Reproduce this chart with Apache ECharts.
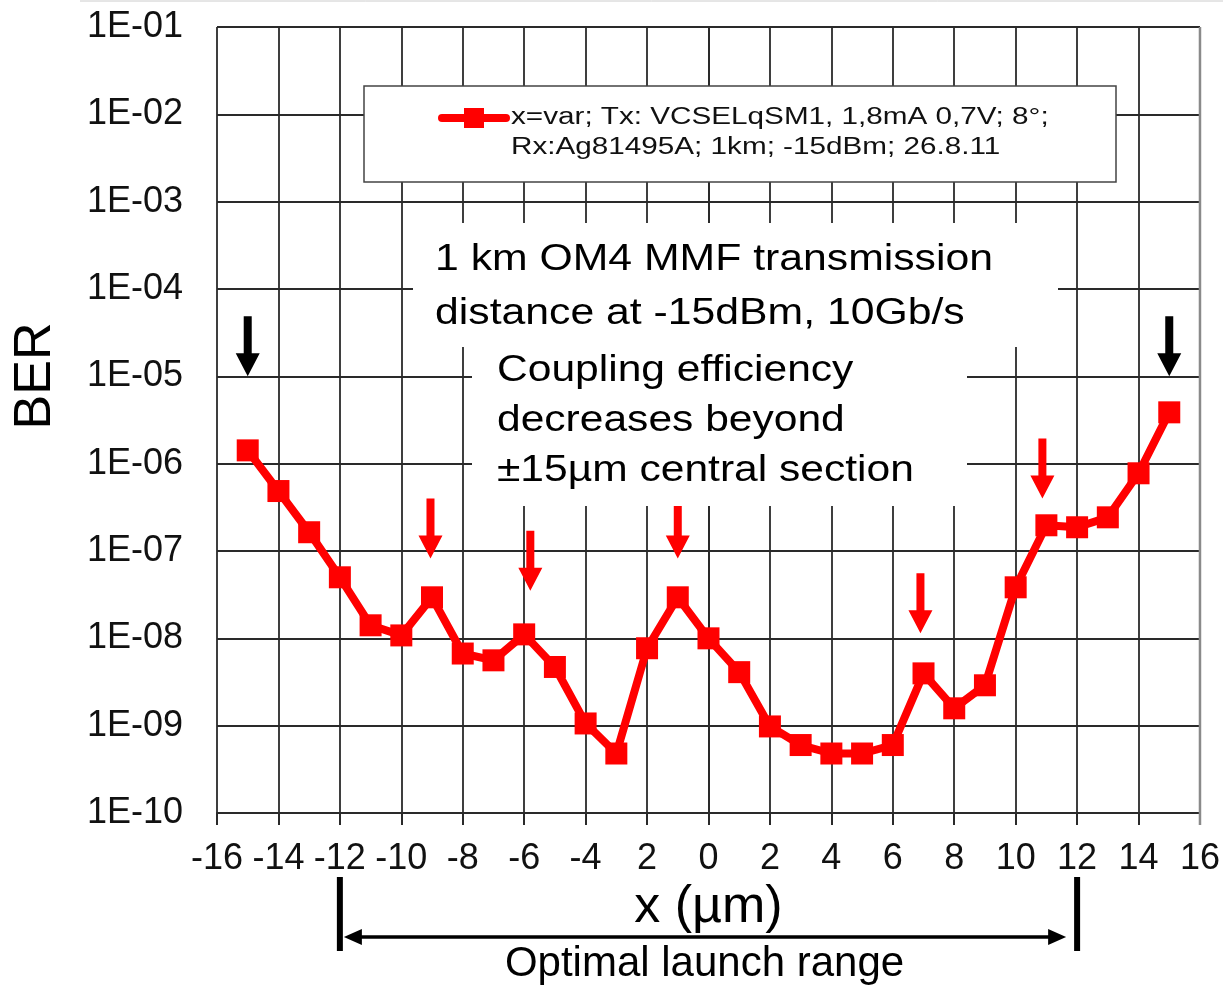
<!DOCTYPE html>
<html><head><meta charset="utf-8">
<script src="https://cdn.jsdelivr.net/npm/echarts@6/dist/echarts.min.js"></script>
<style>html,body{margin:0;padding:0;background:#fff}#c{width:1223px;height:987px}</style>
</head><body><div id="c"></div>
<script>
// ---- data ----
const xPositions = [-15,-14,-13,-12,-11,-10,-9,-8,-7,-6,-5,-4,-3,-2,-1,0,1,2,3,4,5,6,7,8,9,10,11,12,13,14,15];
const berValues = [
  1.42e-6, 4.86e-7, 1.64e-7, 5.0e-8, 1.41e-8, 1.08e-8, 2.95e-8, 6.7e-9, 5.6e-9, 1.11e-8,
  4.7e-9, 1.06e-9, 4.8e-10, 7.7e-9, 2.95e-8, 1.0e-8, 4.1e-9, 9.8e-10, 6.0e-10, 4.8e-10,
  4.8e-10, 6.0e-10, 3.97e-9, 1.58e-9, 2.9e-9, 3.84e-8, 1.97e-7, 1.87e-7, 2.43e-7, 7.76e-7,
  3.87e-6
];
const xTickLabels = ['-16','-14','-12','-10','-8','-6','-4','2','0','2','4','6','8','10','12','14','16'];
const yTickLabels = ['1E-10','1E-09','1E-08','1E-07','1E-06','1E-05','1E-04','1E-03','1E-02','1E-01'];
const seriesName = ['x=var; Tx: VCSELqSM1, 1,8mA 0,7V; 8°;', 'Rx:Ag81495A; 1km; -15dBm; 26.8.11'];
const noteTransmission = ['1 km OM4 MMF transmission', 'distance at -15dBm, 10Gb/s'];
const noteCoupling = ['Coupling efficiency', 'decreases beyond', '±15µm central section'];
const redArrowX = [-9.05, -5.8, -1, 6.9, 10.87];
const redArrowTip = [8.2e-8, 3.5e-8, 8.2e-8, 1.14e-8, 4.0e-7];
const blackArrowX = [-15, 15];
const blackArrowTip = [1e-5, 1e-5];
const launchRange = [-12, 12];
const launchLabel = 'Optimal launch range';

const FONT = 'Liberation Sans, Arial, sans-serif';
const GRID = '#2a2a2a';
const chart = echarts.init(document.getElementById('c'), null, {renderer: 'canvas'});

const option = {
  animation: false,
  backgroundColor: '#fff',
  grid: {left: 217, top: 27, width: 985, height: 786, containLabel: false},
  xAxis: {
    type: 'value', min: -16, max: 16, interval: 2,
    axisLine: {onZero: false, lineStyle: {color: GRID, width: 2}},
    axisTick: {show: true, length: 12, lineStyle: {color: GRID, width: 2}},
    splitLine: {show: true, lineStyle: {color: GRID, width: 1.8}},
    axisLabel: {
      fontSize: 36, fontFamily: FONT, color: '#111', margin: 28,
      formatter: v => xTickLabels[Math.round((v + 16) / 2)]
    },
    name: 'x (µm)', nameLocation: 'middle', nameGap: 66,
    nameTextStyle: {fontSize: 52, fontFamily: FONT, color: '#000'}
  },
  yAxis: {
    type: 'log', logBase: 10, min: 1e-10, max: 0.1, splitNumber: 9,
    axisLine: {lineStyle: {color: GRID, width: 2}},
    axisTick: {show: true, length: 11, lineStyle: {color: GRID, width: 2}},
    splitLine: {show: true, lineStyle: {color: GRID, width: 1.8}},
    minorTick: {show: false}, minorSplitLine: {show: false},
    axisLabel: {
      fontSize: 36, fontFamily: FONT, color: '#111', margin: 34,
      formatter: v => yTickLabels[Math.round(Math.log10(v)) + 10]
    },
    name: 'BER', nameLocation: 'middle', nameRotate: 90, nameGap: 155,
    nameTextStyle: {fontSize: 52, fontFamily: FONT, color: '#000', padding: [0, 0, 0, 88]}
  },
  series: [{
    type: 'line', name: seriesName.join('\n'),
    data: xPositions.map((x, i) => [x, berValues[i]]),
    symbol: 'rect', symbolSize: 22,
    lineStyle: {color: '#ff0000', width: 8},
    itemStyle: {color: '#ff0000'},
    z: 3
  }]
};
chart.setOption(option);

function px(x, y) { return chart.convertToPixel({gridIndex: 0}, [x, y]); }
function arrowPts(tx, ty, L, sw, hw, hh) {
  return [[tx - sw/2, ty - L], [tx + sw/2, ty - L], [tx + sw/2, ty - hh], [tx + hw/2, ty - hh],
          [tx, ty], [tx - hw/2, ty - hh], [tx - sw/2, ty - hh]];
}
const g = [];
g.push({type: 'line', shape: {x1: 80, y1: 1, x2: 1223, y2: 1}, style: {stroke: '#ccc', lineWidth: 1}, z: 1});
const rTop = px(16, 0.1), rBot = px(16, 1e-10);
g.push({type: 'line', shape: {x1: rTop[0], y1: rTop[1], x2: rBot[0], y2: rBot[1] + 12}, style: {stroke: '#8a8a8a', lineWidth: 2.5}, z: 4});

redArrowX.forEach((x, i) => {
  const p = px(x, redArrowTip[i]);
  g.push({type: 'polygon', shape: {points: arrowPts(p[0], p[1], 60, 8, 24, 23)}, style: {fill: '#ff0000'}, z: 6});
});
blackArrowX.forEach((x, i) => {
  const p = px(x, blackArrowTip[i]);
  g.push({type: 'polygon', shape: {points: arrowPts(p[0], p[1], 60, 8, 24, 23)}, style: {fill: '#000'}, z: 6});
});

g.push({type: 'rect', shape: {x: 364, y: 86, width: 752, height: 96}, style: {fill: '#fff', stroke: '#444', lineWidth: 1.5}, z: 10});
g.push({type: 'line', shape: {x1: 442, y1: 118, x2: 506, y2: 118}, style: {stroke: '#ff0000', lineWidth: 8, lineCap: 'round'}, z: 11});
g.push({type: 'rect', shape: {x: 464, y: 108, width: 20, height: 20}, style: {fill: '#ff0000'}, z: 11});
seriesName.forEach((t, i) => {
  g.push({type: 'text', x: 511, y: 118 + 30 * i, scaleX: 1.29, z: 11,
    style: {text: t, x: 0, y: 0, fontSize: 23, fontFamily: FONT, fill: '#111', align: 'left', verticalAlign: 'middle'}});
});

g.push({type: 'rect', shape: {x: 413, y: 223, width: 645, height: 124}, style: {fill: '#fff'}, z: 10});
noteTransmission.forEach((t, i) => {
  g.push({type: 'text', x: 435, y: 260 + 54 * i, scaleX: 1.155, z: 11,
    style: {text: t, x: 0, y: 0, fontSize: 37, fontFamily: FONT, fill: '#000', align: 'left', verticalAlign: 'middle'}});
});
g.push({type: 'rect', shape: {x: 472, y: 347, width: 495, height: 159}, style: {fill: '#fff'}, z: 10});
noteCoupling.forEach((t, i) => {
  g.push({type: 'text', x: 497, y: 371 + 50 * i, scaleX: 1.15, z: 11,
    style: {text: t, x: 0, y: 0, fontSize: 37, fontFamily: FONT, fill: '#000', align: 'left', verticalAlign: 'middle'}});
});

const bl = px(launchRange[0], 1e-10)[0], br = px(launchRange[1], 1e-10)[0];
const yTop = 877, yBot = 951, yA = 937;
g.push({type: 'rect', shape: {x: bl - 3, y: yTop, width: 6, height: yBot - yTop}, style: {fill: '#000'}, z: 6});
g.push({type: 'rect', shape: {x: br - 3, y: yTop, width: 6, height: yBot - yTop}, style: {fill: '#000'}, z: 6});
g.push({type: 'line', shape: {x1: bl + 18, y1: yA, x2: br - 18, y2: yA}, style: {stroke: '#000', lineWidth: 3.5}, z: 6});
g.push({type: 'polygon', shape: {points: [[bl + 4, yA], [bl + 22, yA - 8], [bl + 22, yA + 8]]}, style: {fill: '#000'}, z: 6});
g.push({type: 'polygon', shape: {points: [[br - 11, yA], [br - 29, yA - 8], [br - 29, yA + 8]]}, style: {fill: '#000'}, z: 6});
g.push({type: 'text', x: (bl + br) / 2 - 4, y: 964, z: 6,
  style: {text: launchLabel, x: 0, y: 0, fontSize: 42, fontFamily: FONT, fill: '#000', align: 'center', verticalAlign: 'middle'}});

chart.setOption({graphic: {elements: g}});
</script>
</body></html>
